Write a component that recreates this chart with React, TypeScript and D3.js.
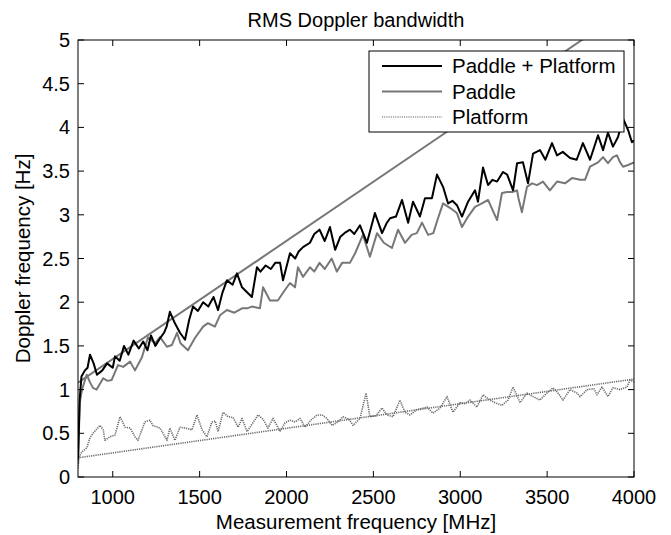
import React from "react";
import * as d3 from "d3";

type P = [number, number];

const xTicks = [1000, 1500, 2000, 2500, 3000, 3500, 4000];
const yTicks = [0, 0.5, 1, 1.5, 2, 2.5, 3, 3.5, 4, 4.5, 5];
const yTickLabels = ["0", "0.5", "1", "1.5", "2", "2.5", "3", "3.5", "4", "4.5", "5"];
const legendLabels = ["Paddle + Platform", "Paddle", "Platform"];

const paddlePlatform: P[] = [
  [800, 0.2], [810, 0.9], [820, 1.15], [840, 1.22], [855, 1.25], [869, 1.4], [890, 1.3], [909, 1.17],
  [940, 1.22], [967, 1.3], [1000, 1.25], [1013, 1.38], [1040, 1.33], [1065, 1.5], [1090, 1.4],
  [1120, 1.56], [1150, 1.47], [1175, 1.55], [1200, 1.45], [1220, 1.62], [1245, 1.5], [1270, 1.58],
  [1295, 1.65], [1310, 1.72], [1329, 1.89], [1360, 1.75], [1387, 1.65], [1416, 1.57], [1440, 1.8],
  [1462, 1.95], [1490, 1.9], [1520, 2.0], [1550, 1.95], [1580, 2.06], [1606, 1.91], [1630, 2.1],
  [1657, 2.25], [1690, 2.2], [1715, 2.33], [1744, 2.17], [1770, 2.12], [1801, 2.06], [1830, 2.4],
  [1850, 2.35], [1880, 2.42], [1910, 2.38], [1935, 2.45], [1963, 2.45], [1980, 2.25], [2020, 2.56],
  [2050, 2.5], [2070, 2.58], [2095, 2.63], [2135, 2.68], [2160, 2.78], [2190, 2.83], [2220, 2.7],
  [2250, 2.86], [2280, 2.6], [2310, 2.75], [2340, 2.8], [2365, 2.83], [2390, 2.78], [2423, 2.88],
  [2463, 2.68], [2509, 3.02], [2550, 2.79], [2575, 2.9], [2596, 2.96], [2630, 2.98], [2665, 3.17],
  [2700, 2.91], [2728, 3.15], [2768, 2.98], [2797, 3.19], [2837, 3.19], [2866, 3.46], [2901, 3.32],
  [2930, 3.13], [2955, 3.16], [2981, 3.11], [3010, 2.98], [3045, 3.15], [3085, 3.28], [3102, 3.15],
  [3131, 3.54], [3160, 3.34], [3185, 3.4], [3212, 3.38], [3246, 3.49], [3270, 3.46], [3304, 3.28],
  [3327, 3.59], [3361, 3.6], [3390, 3.36], [3419, 3.7], [3459, 3.74], [3490, 3.63], [3528, 3.82],
  [3557, 3.68], [3590, 3.72], [3632, 3.65], [3670, 3.63], [3706, 3.82], [3747, 3.63], [3793, 3.91],
  [3822, 3.74], [3850, 3.94], [3879, 3.78], [3908, 3.89], [3937, 4.1], [3966, 3.97], [3988, 3.83],
  [4000, 3.85],
];

const paddle: P[] = [
  [800, 0.15], [810, 0.85], [823, 1.0], [850, 1.17], [870, 1.08], [886, 1.02], [907, 1.0], [945, 1.13],
  [970, 1.1], [994, 1.11], [1030, 1.28], [1060, 1.26], [1100, 1.32], [1128, 1.22], [1168, 1.37],
  [1203, 1.6], [1243, 1.53], [1272, 1.6], [1312, 1.49], [1340, 1.51], [1370, 1.65], [1390, 1.53],
  [1433, 1.45], [1473, 1.59], [1520, 1.72], [1548, 1.76], [1588, 1.72], [1617, 1.85], [1657, 1.91],
  [1700, 1.88], [1744, 1.93], [1773, 1.93], [1801, 1.95], [1847, 1.93], [1865, 2.17], [1905, 2.02],
  [1950, 2.02], [1991, 2.14], [2020, 2.22], [2049, 2.17], [2066, 2.4], [2095, 2.29], [2135, 2.4],
  [2160, 2.35], [2190, 2.45], [2220, 2.38], [2260, 2.5], [2290, 2.35], [2320, 2.45], [2365, 2.45],
  [2395, 2.56], [2440, 2.77], [2480, 2.52], [2521, 2.79], [2560, 2.68], [2607, 2.62], [2642, 2.83],
  [2682, 2.68], [2720, 2.77], [2750, 2.79], [2780, 2.91], [2815, 2.77], [2845, 2.79], [2872, 2.96],
  [2901, 3.13], [2940, 3.08], [2981, 3.02], [3010, 2.86], [3045, 2.98], [3085, 3.09], [3125, 3.13],
  [3160, 3.17], [3212, 2.94], [3240, 3.25], [3270, 3.26], [3300, 3.26], [3327, 3.28], [3335, 3.19],
  [3355, 3.03], [3384, 3.32], [3413, 3.36], [3442, 3.34], [3476, 3.38], [3516, 3.28], [3557, 3.38],
  [3603, 3.36], [3643, 3.42], [3690, 3.4], [3718, 3.4], [3747, 3.55], [3793, 3.6], [3822, 3.66],
  [3850, 3.59], [3879, 3.66], [3902, 3.68], [3920, 3.6], [3937, 3.55], [3966, 3.57], [4000, 3.6],
];

const platform: P[] = [
  [800, 0.1], [806, 0.23], [823, 0.29], [850, 0.33], [869, 0.45], [886, 0.5], [927, 0.59], [945, 0.54],
  [955, 0.42], [984, 0.46], [1013, 0.48], [1042, 0.69], [1071, 0.57], [1100, 0.56], [1128, 0.46],
  [1145, 0.42], [1185, 0.63], [1214, 0.65], [1231, 0.59], [1272, 0.56], [1312, 0.42], [1329, 0.56],
  [1358, 0.42], [1387, 0.57], [1416, 0.56], [1456, 0.54], [1485, 0.71], [1514, 0.54], [1542, 0.46],
  [1571, 0.63], [1590, 0.64], [1606, 0.52], [1635, 0.74], [1664, 0.69], [1693, 0.68], [1722, 0.57],
  [1744, 0.67], [1773, 0.52], [1800, 0.6], [1836, 0.71], [1865, 0.66], [1893, 0.56], [1922, 0.67],
  [1945, 0.59], [1963, 0.52], [1991, 0.62], [2020, 0.65], [2050, 0.63], [2078, 0.67], [2107, 0.57],
  [2140, 0.65], [2176, 0.71], [2205, 0.71], [2233, 0.67], [2262, 0.59], [2296, 0.63], [2325, 0.69],
  [2360, 0.66], [2383, 0.59], [2423, 0.67], [2458, 0.96], [2480, 0.69], [2515, 0.7], [2550, 0.79],
  [2578, 0.71], [2613, 0.69], [2653, 0.88], [2682, 0.74], [2711, 0.71], [2750, 0.77], [2809, 0.8],
  [2843, 0.73], [2884, 0.79], [2924, 0.92], [2958, 0.74], [2998, 0.85], [3027, 0.84], [3056, 0.88],
  [3096, 0.8], [3131, 0.94], [3171, 0.88], [3200, 0.85], [3240, 0.82], [3275, 0.88], [3304, 1.03],
  [3344, 0.85], [3384, 0.96], [3419, 0.92], [3459, 0.88], [3499, 0.96], [3534, 1.02], [3563, 0.96],
  [3591, 0.88], [3632, 1.0], [3672, 0.96], [3690, 0.92], [3730, 1.0], [3770, 1.01], [3787, 0.94],
  [3816, 1.03], [3850, 0.92], [3879, 1.02], [3919, 1.0], [3960, 1.03], [3977, 1.11], [4000, 1.09],
];

const paddleTrend: P[] = [[800, 1.08], [3700, 5.0], [4000, 5.4]];
const platformTrend: P[] = [[800, 0.22], [4000, 1.12]];

const W = 671;
const H = 535;
const M = { left: 78, right: 634, top: 40, bottom: 477 };
const FONT = "'Liberation Sans', Arial, Helvetica, sans-serif";

export default function App() {
  const x = d3.scaleLinear().domain([800, 4000]).range([M.left, M.right]);
  const y = d3.scaleLinear().domain([0, 5]).range([M.bottom, M.top]);
  const line = d3
    .line<P>()
    .x((d) => x(d[0]))
    .y((d) => y(d[1]));

  const black = "#000";
  const gray = "#777";
  const dotGray = "#6a6a6a";

  const legendRows = [
    { stroke: black, dash: undefined as string | undefined, w: 2 },
    { stroke: gray, dash: undefined as string | undefined, w: 2 },
    { stroke: "#999", dash: "1.2,1", w: 1.6 },
  ];

  return (
    <svg width={W} height={H} style={{ position: "absolute", left: 0, top: 0, background: "#fff" }}>
      <defs>
        <clipPath id="plot">
          <rect x={M.left} y={M.top} width={M.right - M.left} height={M.bottom - M.top} />
        </clipPath>
      </defs>
      <rect x={0} y={0} width={W} height={H} fill="#fff" />
      <g clipPath="url(#plot)" fill="none" strokeLinejoin="round">
        <path d={line(platformTrend) || ""} stroke={dotGray} strokeWidth={1.6} strokeDasharray="1.2,1" />
        <path d={line(platform) || ""} stroke={dotGray} strokeWidth={1.6} strokeDasharray="1.2,1" />
        <path d={line(paddleTrend) || ""} stroke={gray} strokeWidth={2} />
        <path d={line(paddle) || ""} stroke={gray} strokeWidth={2} />
        <path d={line(paddlePlatform) || ""} stroke={black} strokeWidth={2} />
      </g>
      <rect x={M.left} y={M.top} width={M.right - M.left} height={M.bottom - M.top} fill="none" stroke="#000" strokeWidth={1} />
      {xTicks.map((t) => (
        <g key={"x" + t}>
          <line x1={x(t)} x2={x(t)} y1={M.bottom} y2={M.bottom - 6} stroke="#000" />
          <line x1={x(t)} x2={x(t)} y1={M.top} y2={M.top + 6} stroke="#000" />
          <text x={x(t)} y={504} textAnchor="middle" fontFamily={FONT} fontSize={20}>
            {t}
          </text>
        </g>
      ))}
      {yTicks.map((t, i) => (
        <g key={"y" + t}>
          <line x1={M.left} x2={M.left + 6} y1={y(t)} y2={y(t)} stroke="#000" />
          <line x1={M.right} x2={M.right - 6} y1={y(t)} y2={y(t)} stroke="#000" />
          <text x={70} y={y(t)} dy="0.35em" textAnchor="end" fontFamily={FONT} fontSize={20}>
            {yTickLabels[i]}
          </text>
        </g>
      ))}
      <text x={(M.left + M.right) / 2} y={27} textAnchor="middle" fontFamily={FONT} fontSize={20}>
        RMS Doppler bandwidth
      </text>
      <text x={(M.left + M.right) / 2} y={529} textAnchor="middle" fontFamily={FONT} fontSize={20.5}>
        Measurement frequency [MHz]
      </text>
      <text
        transform={`translate(30, ${(M.top + M.bottom) / 2}) rotate(-90)`}
        textAnchor="middle"
        fontFamily={FONT}
        fontSize={20.5}
      >
        Doppler frequency [Hz]
      </text>
      <rect x={369} y={51} width={255} height={81} fill="#fff" stroke="#000" strokeWidth={1} />
      {legendLabels.map((lab, i) => {
        const ry = 66 + i * 25.5;
        const r = legendRows[i];
        return (
          <g key={lab}>
            <line x1={382} x2={442} y1={ry} y2={ry} stroke={r.stroke} strokeWidth={r.w} strokeDasharray={r.dash} />
            <text x={452} y={ry} dy="0.35em" fontFamily={FONT} fontSize={20.5}>
              {lab}
            </text>
          </g>
        );
      })}
    </svg>
  );
}
